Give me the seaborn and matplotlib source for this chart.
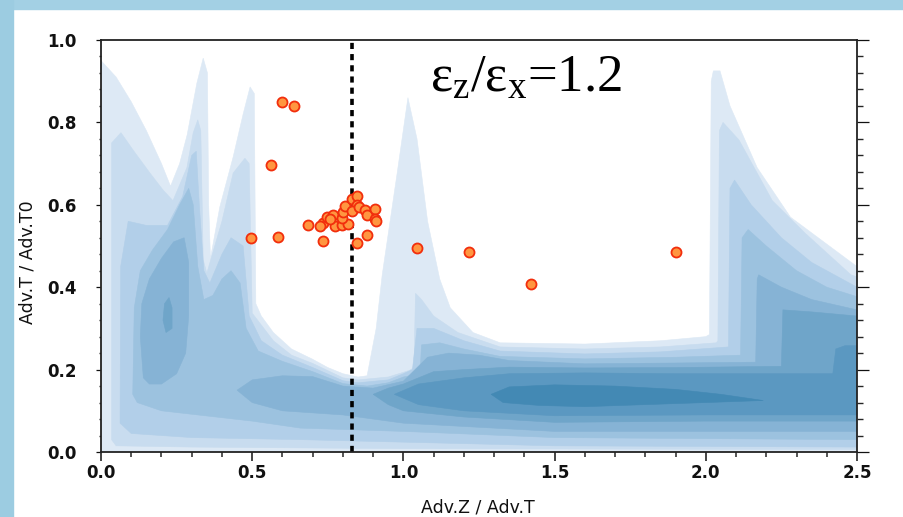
import matplotlib
matplotlib.use("Agg")
import matplotlib.pyplot as plt
from matplotlib.patches import Rectangle
from matplotlib.ticker import MultipleLocator
import seaborn as sns

# ---------------- data ----------------
# density contour levels, each drawn as filled region: top path (left->right) + bottom path (right->left)
L1_top_x = [0.00,0.05,0.10,0.15,0.20,0.23,0.26,0.285,0.317,0.338,0.352,0.356,0.362,0.393,0.437,0.470,0.493,0.507,0.512,0.53,0.57,0.63,0.70,0.75,0.80,0.85,0.88,0.91,0.93,0.98,1.015,1.045,1.08,1.12,1.155,1.23,1.32,1.60,1.85,2.00,2.012,2.018,2.025,2.047,2.08,2.17,2.28,2.39,2.50]
L1_top_y = [0.95,0.91,0.85,0.78,0.70,0.645,0.70,0.77,0.895,0.956,0.92,0.60,0.47,0.595,0.716,0.82,0.886,0.87,0.36,0.33,0.29,0.25,0.225,0.205,0.19,0.182,0.185,0.30,0.43,0.68,0.86,0.76,0.56,0.42,0.35,0.29,0.265,0.262,0.27,0.28,0.285,0.90,0.925,0.925,0.84,0.69,0.57,0.51,0.45]
L1_bot_x = [2.50,0.00]
L1_bot_y = [0.00,0.00]

L2_top_x = [0.035,0.035,0.066,0.106,0.162,0.205,0.238,0.284,0.305,0.32,0.33,0.338,0.35,0.40,0.437,0.476,0.49,0.50,0.57,0.63,0.70,0.80,0.85,0.95,1.02,1.035,1.04,1.06,1.10,1.18,1.32,1.60,1.85,2.035,2.04,2.045,2.057,2.11,2.22,2.33,2.48,2.50]
L2_top_y = [0.03,0.75,0.775,0.733,0.677,0.636,0.61,0.69,0.775,0.806,0.78,0.466,0.434,0.56,0.677,0.713,0.70,0.337,0.27,0.235,0.215,0.18,0.175,0.182,0.198,0.205,0.385,0.37,0.33,0.29,0.255,0.25,0.255,0.265,0.27,0.78,0.80,0.757,0.61,0.53,0.43,0.425]
L2_bot_x = [2.50,1.00,0.30,0.05,0.035]
L2_bot_y = [0.006,0.008,0.012,0.015,0.03]

L3_top_x = [0.063,0.065,0.09,0.15,0.22,0.27,0.30,0.315,0.325,0.34,0.36,0.40,0.43,0.47,0.49,0.53,0.60,0.70,0.80,0.85,0.95,1.00,1.03,1.045,1.10,1.20,1.32,1.60,1.85,2.075,2.08,2.095,2.15,2.25,2.35,2.50]
L3_top_y = [0.07,0.45,0.56,0.55,0.55,0.62,0.72,0.73,0.60,0.44,0.41,0.48,0.52,0.50,0.33,0.27,0.235,0.205,0.173,0.168,0.175,0.19,0.20,0.30,0.30,0.27,0.245,0.238,0.243,0.255,0.64,0.66,0.60,0.52,0.46,0.40]
L3_bot_x = [2.50,1.50,0.66,0.30,0.10,0.063]
L3_bot_y = [0.012,0.015,0.03,0.035,0.045,0.07]

L4_top_x = [0.105,0.11,0.13,0.17,0.22,0.26,0.29,0.305,0.32,0.34,0.37,0.40,0.43,0.46,0.48,0.52,0.60,0.70,0.80,0.88,0.95,1.00,1.055,1.06,1.12,1.20,1.32,1.60,1.90,2.115,2.12,2.14,2.20,2.30,2.40,2.50]
L4_top_y = [0.14,0.35,0.44,0.49,0.54,0.60,0.64,0.60,0.45,0.37,0.38,0.42,0.44,0.41,0.30,0.245,0.22,0.195,0.166,0.16,0.168,0.182,0.19,0.26,0.265,0.25,0.232,0.226,0.23,0.235,0.52,0.54,0.50,0.44,0.40,0.377]
L4_bot_x = [2.50,1.50,1.00,0.66,0.50,0.20,0.12,0.105]
L4_bot_y = [0.03,0.035,0.05,0.058,0.075,0.10,0.12,0.14]

L5_top_x = [0.45,0.50,0.60,0.70,0.80,0.90,1.00,1.08,1.15,1.25,1.35,1.60,1.90,2.165,2.17,2.175,2.25,2.35,2.50]
L5_top_y = [0.15,0.175,0.185,0.183,0.16,0.155,0.172,0.23,0.24,0.235,0.222,0.214,0.216,0.218,0.42,0.43,0.40,0.37,0.345]
L5_bot_x = [2.50,1.50,1.00,0.80,0.60,0.50,0.45]
L5_bot_y = [0.05,0.05,0.07,0.09,0.10,0.12,0.15]
L5_isle_x = [0.14,0.13,0.135,0.16,0.20,0.24,0.275,0.29,0.29,0.28,0.25,0.20,0.16]
L5_isle_y = [0.18,0.28,0.36,0.42,0.47,0.51,0.52,0.46,0.33,0.24,0.19,0.165,0.165]

L6_top_x = [0.90,0.95,1.00,1.10,1.20,1.35,1.60,1.90,2.25,2.255,2.35,2.50]
L6_top_y = [0.14,0.155,0.165,0.195,0.20,0.206,0.204,0.205,0.208,0.345,0.34,0.33]
L6_bot_x = [2.50,2.00,1.50,1.20,1.00,0.95,0.90]
L6_bot_y = [0.075,0.075,0.072,0.085,0.10,0.115,0.14]
L6_isle_x = [0.215,0.205,0.21,0.225,0.235,0.235]
L6_isle_y = [0.29,0.32,0.36,0.375,0.35,0.30]

L7_top_x = [0.97,1.05,1.20,1.35,1.60,1.90,2.20,2.42,2.43,2.46,2.50]
L7_top_y = [0.14,0.165,0.18,0.19,0.192,0.19,0.19,0.19,0.25,0.258,0.258]
L7_bot_x = [2.50,2.00,1.50,1.20,1.05,0.97]
L7_bot_y = [0.09,0.09,0.088,0.10,0.115,0.14]

L8_top_x = [1.29,1.35,1.50,1.70,1.90,2.05,2.19]
L8_top_y = [0.14,0.158,0.163,0.16,0.152,0.14,0.125]
L8_bot_x = [2.19,2.00,1.80,1.60,1.45,1.33,1.29]
L8_bot_y = [0.125,0.12,0.115,0.11,0.113,0.12,0.14]

level_colors = ["#dde9f5", "#c8dcef", "#b2cfe9", "#9cc2df", "#86b3d5", "#6fa5c9", "#5b98c1", "#4389b4"]

# measured points
pts_x = [0.600,0.639,0.562,0.496,0.584,0.685,0.733,0.735,0.746,0.768,0.774,0.796,0.818,0.798,0.801,0.807,0.831,0.845,0.845,0.829,0.854,0.873,0.879,0.906,0.906,0.909,0.881,0.845,1.046,1.218,1.421,1.901,0.724,0.757]
pts_y = [0.850,0.841,0.697,0.519,0.523,0.551,0.512,0.555,0.570,0.575,0.548,0.550,0.554,0.568,0.583,0.598,0.615,0.622,0.599,0.586,0.595,0.587,0.576,0.591,0.566,0.560,0.526,0.507,0.494,0.486,0.407,0.486,0.548,0.565]

ref_line_x = 0.83
annotation = r'ε$_{\mathrm{z}}$/ε$_{\mathrm{x}}$=1.2'
x_label = "Adv.Z / Adv.T"
y_label = "Adv.T / Adv.T0"

# ---------------- figure ----------------
sns.set_style("ticks")
plt.rcParams["font.family"] = ["DejaVu Sans"]
plt.rcParams["mathtext.fontset"] = "custom"
plt.rcParams["mathtext.rm"] = "Liberation Serif"
plt.rcParams["mathtext.it"] = "Liberation Serif:italic"

fig = plt.figure(figsize=(9.04, 5.17), dpi=100)
fig.patch.set_facecolor("white")
# window-border strips of the screenshot
fig.add_artist(Rectangle((0, 1 - 9/517), 1, 9/517, transform=fig.transFigure, color="#a3d0e4", zorder=0))
fig.add_artist(Rectangle((0, 0), 13/904, 1, transform=fig.transFigure, color="#9ccce1", zorder=0))

ax = fig.add_axes([101/904, 1 - 452/517, 756/904, 412/517])

levels = [
    [(L1_top_x, L1_top_y, L1_bot_x, L1_bot_y)],
    [(L2_top_x, L2_top_y, L2_bot_x, L2_bot_y)],
    [(L3_top_x, L3_top_y, L3_bot_x, L3_bot_y)],
    [(L4_top_x, L4_top_y, L4_bot_x, L4_bot_y)],
    [(L5_top_x, L5_top_y, L5_bot_x, L5_bot_y), (L5_isle_x, L5_isle_y, [], [])],
    [(L6_top_x, L6_top_y, L6_bot_x, L6_bot_y), (L6_isle_x, L6_isle_y, [], [])],
    [(L7_top_x, L7_top_y, L7_bot_x, L7_bot_y)],
    [(L8_top_x, L8_top_y, L8_bot_x, L8_bot_y)],
]
for k, pieces in enumerate(levels):
    for tx, ty, bx, by in pieces:
        ax.fill(list(tx) + list(bx), list(ty) + list(by), color=level_colors[k],
                linewidth=0.4, edgecolor=level_colors[k], zorder=1 + k * 0.01)

ax.axvline(ref_line_x, color="black", lw=2.6, linestyle=(0, (1.7, 1.4)), zorder=3)

sns.scatterplot(x=pts_x, y=pts_y, ax=ax, s=52, color="#ff9640", edgecolor="#f22e0c",
                linewidth=1.3, zorder=4)

ax.text(0.435, 0.874, annotation, transform=ax.transAxes, fontsize=38,
        family="Liberation Serif", va="baseline", ha="left", color="black")

ax.set_xlim(0, 2.5)
ax.set_ylim(0, 1.0)
ax.xaxis.set_major_locator(MultipleLocator(0.5))
ax.xaxis.set_minor_locator(MultipleLocator(0.1))
ax.yaxis.set_major_locator(MultipleLocator(0.2))
ax.yaxis.set_minor_locator(MultipleLocator(0.04))
ax.set_xticks([0, 0.5, 1.0, 1.5, 2.0, 2.5])
ax.set_xticklabels(["0.0", "0.5", "1.0", "1.5", "2.0", "2.5"])
ax.set_yticks([0, 0.2, 0.4, 0.6, 0.8, 1.0])
ax.set_yticklabels(["0.0", "0.2", "0.4", "0.6", "0.8", "1.0"])

for s in ax.spines.values():
    s.set_linewidth(1.3)
    s.set_color("#222222")
    s.set_zorder(5)

ax.tick_params(axis="x", which="major", direction="out", length=6.5, width=1.1,
               labelsize=12, pad=2, colors="#111111", bottom=True, top=False)
ax.tick_params(axis="x", which="minor", direction="out", length=3.6, width=1.1,
               bottom=True, top=False)
ax.tick_params(axis="y", which="major", direction="out", length=3.5, width=0.9,
               labelsize=12, pad=14, left=True, right=True, colors="#111111")
ax.tick_params(axis="y", which="minor", direction="out", length=1.8, width=1.0,
               left=True, right=True)
ax.tick_params(axis="y", which="both", labelright=False)
for lab in ax.get_xticklabels() + ax.get_yticklabels():
    lab.set_fontweight("bold")

# right-side ticks longer than left ones
for t in ax.yaxis.get_major_ticks():
    t.tick2line.set_markersize(8.6)
for t in ax.yaxis.get_minor_ticks():
    t.tick2line.set_markersize(4.3)

fig.text(478/904, 1/517, x_label, ha="center", va="bottom", fontsize=12.5, color="#111111")
fig.text(28/904, 1 - 262/517, y_label, ha="center", va="center", rotation=90,
         fontsize=12.5, color="#111111")

fig.savefig("out.png", dpi=100)
